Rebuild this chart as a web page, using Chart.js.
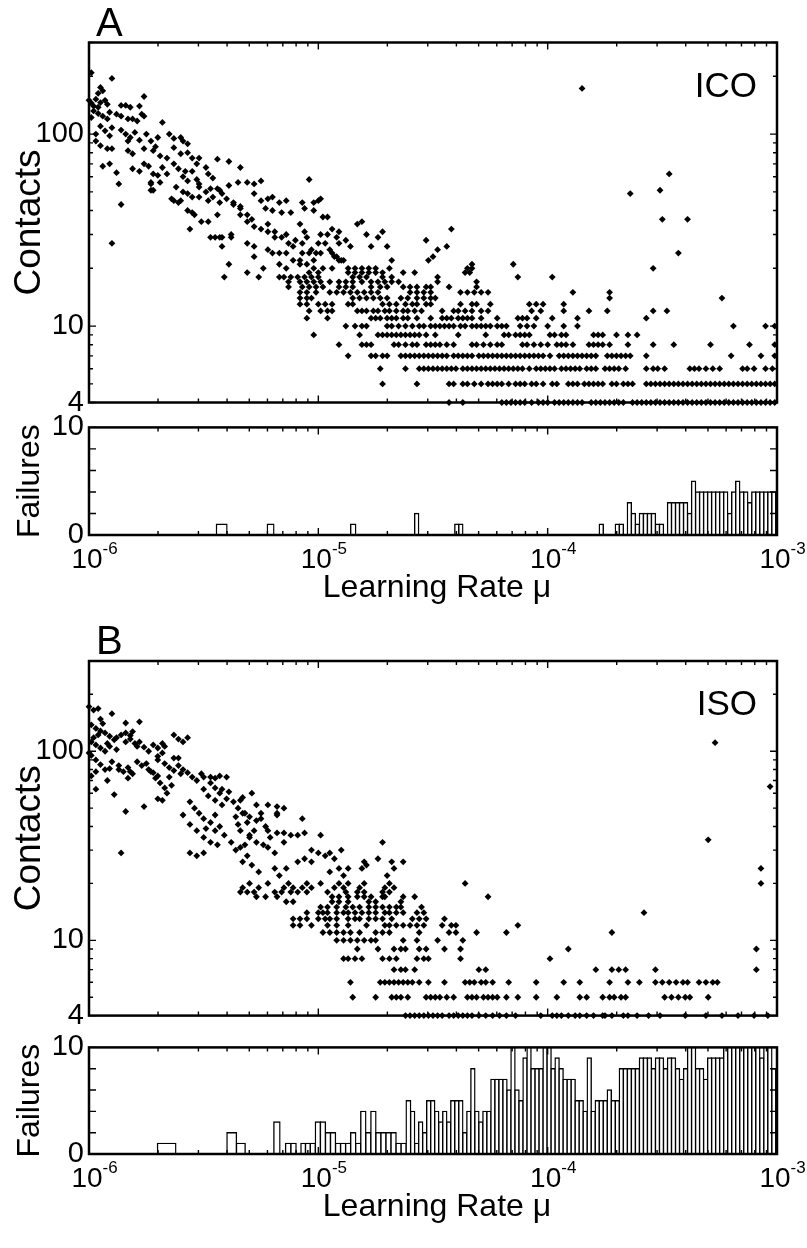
<!DOCTYPE html>
<html>
<head>
<meta charset="utf-8">
<title>Contacts and failures vs learning rate</title>
<script src="https://cdn.jsdelivr.net/npm/chart.js@4.4.0/dist/chart.umd.min.js"></script>
<style>
  body { margin: 0; background: #fff; }
  #wrap { position: relative; width: 807px; height: 1248px; overflow: hidden; }
  canvas { position: absolute; left: 0; }
</style>
</head>
<body>
<div id="wrap">
  <canvas id="contactsA" style="top:0px"></canvas>
  <canvas id="failuresA" style="top:405px"></canvas>
  <canvas id="contactsB" style="top:618px"></canvas>
  <canvas id="failuresB" style="top:1025px"></canvas>
</div>
<script>
// learning rates (log10 of mu) at which failures were counted
var learningRateExp = [
  -6.000,-5.854,-5.745,-5.658,-5.585,-5.523,-5.469,-5.420,-5.377,-5.337,
  -5.301,-5.268,-5.237,-5.208,-5.180,-5.155,-5.131,-5.108,-5.086,-5.066,
  -5.046,-5.024,-5.002,-4.980,-4.958,-4.936,-4.914,-4.892,-4.870,-4.848,
  -4.826,-4.804,-4.782,-4.760,-4.738,-4.716,-4.694,-4.672,-4.650,-4.628,
  -4.606,-4.589,-4.571,-4.554,-4.536,-4.519,-4.501,-4.484,-4.466,-4.449,
  -4.431,-4.414,-4.396,-4.379,-4.361,-4.344,-4.326,-4.309,-4.291,-4.274,
  -4.256,-4.239,-4.221,-4.204,-4.186,-4.169,-4.151,-4.134,-4.116,-4.099,
  -4.081,-4.064,-4.046,-4.029,-4.011,-3.994,-3.976,-3.959,-3.941,-3.924,
  -3.906,-3.889,-3.871,-3.854,-3.836,-3.819,-3.801,-3.784,-3.766,-3.749,
  -3.731,-3.714,-3.696,-3.679,-3.661,-3.644,-3.626,-3.609,-3.591,-3.574,
  -3.556,-3.539,-3.521,-3.504,-3.486,-3.469,-3.451,-3.434,-3.416,-3.399,
  -3.381,-3.364,-3.346,-3.329,-3.311,-3.294,-3.276,-3.259,-3.241,-3.224,
  -3.206,-3.189,-3.171,-3.154,-3.136,-3.119,-3.101,-3.084,-3.066,-3.049,
  -3.031,-3.014
];

var failuresA = [
  0,0,0,0,0,0,0,1,0,0,
  0,0,0,1,0,0,0,0,0,0,
  0,0,0,0,0,0,0,0,0,1,
  0,0,0,0,0,0,0,0,0,0,
  0,0,2,0,0,0,0,0,0,0,
  0,0,1,1,0,0,0,0,0,0,
  0,0,0,0,0,0,0,0,0,0,
  0,0,0,0,0,0,0,0,0,0,
  0,0,0,0,0,0,0,0,1,0,
  0,0,1,1,0,3,2,1,2,2,
  2,2,1,1,0,3,3,3,3,3,
  2,5,4,4,4,4,4,4,4,4,
  2,4,5,4,4,3,4,4,4,4,
  4,4
];

var failuresB = [
  0,0,0,1,0,0,0,0,2,1,
  0,0,0,0,3,0,1,1,0,1,
  1,1,3,3,2,2,1,1,1,2,
  1,4,2,4,2,2,2,2,1,1,
  5,4,1,3,2,5,5,4,3,4,
  3,5,5,5,2,4,8,4,3,4,
  4,7,7,7,7,6,10,6,5,9,
  10,8,8,8,10,10,8,9,8,7,
  7,7,5,5,4,9,4,5,5,5,
  6,5,5,8,8,8,8,8,9,9,
  9,8,9,9,8,9,9,8,7,8,
  10,10,8,8,7,9,9,9,9,10,
  10,10,10,10,10,10,10,10,9,10,
  10,8
];

// contacts: [count, [log10 mu of every run with that count]]
var contactRowsA = [
  [4, [-4.43,-4.37,-4.20,-4.18,-4.16,-4.14,-4.12,-4.10,-4.07,-4.04,-4.02,-4.00,-3.97,-3.95,-3.93,-3.91,-3.89,-3.87,-3.85,-3.81,-3.79,-3.77,-3.75,-3.73,-3.71,-3.69,-3.67,-3.63,-3.61,-3.59,-3.57,-3.55,-3.53,-3.51,-3.49,-3.47,-3.45,-3.43,-3.41,-3.39,-3.37,-3.35,-3.33,-3.31,-3.29,-3.27,-3.25,-3.23,-3.21,-3.19,-3.17,-3.15,-3.13,-3.11,-3.09,-3.07,-3.05,-3.03,-3.01]],
  [5, [-4.72,-4.57,-4.43,-4.41,-4.37,-4.35,-4.32,-4.29,-4.26,-4.24,-4.22,-4.20,-4.17,-4.14,-4.12,-4.10,-4.07,-4.05,-4.02,-3.98,-3.96,-3.91,-3.89,-3.87,-3.84,-3.82,-3.80,-3.78,-3.76,-3.72,-3.70,-3.67,-3.65,-3.63,-3.57,-3.55,-3.53,-3.51,-3.49,-3.47,-3.45,-3.43,-3.41,-3.39,-3.37,-3.35,-3.33,-3.31,-3.29,-3.27,-3.25,-3.23,-3.21,-3.19,-3.17,-3.15,-3.13,-3.11,-3.09,-3.07,-3.05,-3.03,-3.01]],
  [6, [-4.73,-4.62,-4.56,-4.54,-4.52,-4.50,-4.48,-4.46,-4.44,-4.42,-4.40,-4.37,-4.35,-4.33,-4.31,-4.29,-4.27,-4.25,-4.23,-4.21,-4.19,-4.17,-4.15,-4.13,-4.11,-4.08,-4.05,-4.03,-4.01,-3.99,-3.97,-3.94,-3.92,-3.90,-3.88,-3.86,-3.83,-3.81,-3.79,-3.75,-3.73,-3.71,-3.69,-3.66,-3.57,-3.54,-3.52,-3.49,-3.38,-3.36,-3.34,-3.31,-3.28,-3.25,-3.15,-3.13,-3.10,-3.05,-3.02]],
  [7, [-4.87,-4.77,-4.75,-4.72,-4.70,-4.64,-4.62,-4.60,-4.58,-4.56,-4.54,-4.52,-4.50,-4.48,-4.46,-4.44,-4.41,-4.39,-4.37,-4.35,-4.33,-4.30,-4.28,-4.26,-4.24,-4.22,-4.20,-4.18,-4.16,-4.14,-4.12,-4.10,-4.08,-4.06,-4.04,-4.02,-3.99,-3.95,-3.93,-3.91,-3.89,-3.87,-3.85,-3.83,-3.81,-3.79,-3.74,-3.72,-3.70,-3.68,-3.66,-3.64,-3.57,-3.20,-3.07,-3.01]],
  [8, [-4.91,-4.81,-4.79,-4.77,-4.67,-4.65,-4.62,-4.59,-4.57,-4.53,-4.51,-4.49,-4.47,-4.44,-4.41,-4.33,-4.31,-4.28,-4.25,-4.22,-4.20,-4.11,-4.09,-4.06,-4.03,-4.00,-3.96,-3.94,-3.92,-3.89,-3.82,-3.80,-3.78,-3.76,-3.73,-3.65,-3.54,-3.45,-3.29,-3.12,-3.01]],
  [9, [-5.02,-4.82,-4.74,-4.72,-4.70,-4.68,-4.66,-4.64,-4.62,-4.60,-4.58,-4.56,-4.53,-4.49,-4.39,-4.27,-4.19,-4.17,-4.14,-4.12,-4.10,-4.08,-3.99,-3.97,-3.94,-3.92,-3.80,-3.78,-3.76,-3.70,-3.65,-3.61]],
  [10, [-4.88,-4.84,-4.81,-4.79,-4.70,-4.68,-4.65,-4.62,-4.59,-4.56,-4.54,-4.51,-4.49,-4.47,-4.45,-4.43,-4.41,-4.38,-4.36,-4.33,-4.31,-4.29,-4.27,-4.25,-4.22,-4.20,-4.18,-4.12,-4.09,-4.06,-4.00,-3.93,-3.87,-3.19,-3.05,-3.01]],
  [11, [-5.05,-4.96,-4.77,-4.75,-4.73,-4.70,-4.68,-4.66,-4.63,-4.61,-4.57,-4.51,-4.46,-4.44,-4.42,-4.39,-4.37,-4.35,-4.33,-4.29,-4.22,-4.13,-4.11,-4.09,-4.05,-3.98,-3.87,-3.57]],
  [12, [-5.04,-4.99,-4.96,-4.94,-4.83,-4.81,-4.79,-4.76,-4.74,-4.71,-4.69,-4.66,-4.63,-4.61,-4.58,-4.55,-4.46,-4.41,-4.39,-4.36,-4.33,-4.29,-4.26,-4.07,-4.03,-3.93,-3.82,-3.74,-3.54,-3.48]],
  [13, [-5.08,-5.05,-5.00,-4.97,-4.94,-4.87,-4.85,-4.72,-4.69,-4.66,-4.62,-4.59,-4.57,-4.53,-4.51,-4.38,-4.33,-4.31,-4.25,-4.08,-4.05,-4.02,-3.93]],
  [14, [-5.08,-5.05,-5.03,-4.85,-4.82,-4.79,-4.76,-4.73,-4.70,-4.64,-4.61,-4.57,-4.54,-4.51,-4.49,-3.73,-3.24]],
  [15, [-5.08,-5.05,-5.01,-4.95,-4.92,-4.89,-4.86,-4.83,-4.80,-4.77,-4.74,-4.60,-4.57,-4.54,-4.51,-4.38,-4.35,-4.32,-4.29,-4.26,-3.89,-3.73]],
  [16, [-5.13,-5.07,-5.04,-5.01,-4.98,-4.91,-4.88,-4.85,-4.77,-4.73,-4.70,-4.63,-4.60,-4.57,-4.53,-4.51,-4.43,-4.31]],
  [17, [-5.13,-5.08,-5.05,-5.02,-4.99,-4.95,-4.91,-4.88,-4.85,-4.81,-4.77,-4.74,-4.71,-4.68,-4.65,-4.48,-4.31]],
  [18, [-5.41,-5.26,-5.17,-5.15,-5.12,-5.09,-5.06,-5.03,-5.00,-4.85,-4.82,-4.79,-4.72,-4.68,-4.48,-4.13,-3.98]],
  [19, [-5.31,-5.04,-5.00,-4.87,-4.84,-4.81,-4.78,-4.75,-4.72,-4.63,-4.58,-4.36,-4.34]],
  [20, [-5.24,-5.14,-5.02,-4.98,-4.94,-4.87,-4.84,-4.81,-4.78,-4.75,-4.69,-4.35,-4.33,-3.54]]
];

// contacts above 20: [log10 mu, count]
var contactCloudA = [
  [-5.08,21],[-5.05,21],[-5.02,22],[-4.91,22],[-4.89,22],[-5.07,24],[-5.04,24],[-5.01,24],[-4.99,24],[-4.94,24],
  [-4.92,23],[-4.90,22],[-4.52,22],[-4.50,23],[-4.15,21],[-4.33,21],[-4.53,28],[-4.48,25],[-4.44,26],[-4.42,32],
  [-4.70,26],[-4.68,22],[-4.77,26],[-4.91,27],[-4.88,28],[-4.86,26],[-4.83,34],[-4.81,35],[-4.79,30],[-4.74,29],
  [-4.72,31],[-4.94,32],[-4.91,31],[-4.96,30],[-4.92,29],[-5.00,45],[-4.98,37],[-5.02,44],[-5.02,40],[-5.08,34],
  [-5.06,31],[-5.05,29],[-5.07,27],[-5.39,21],[-5.42,26],[-5.28,23],[-5.17,21],[-5.11,22],[-5.08,22],[-5.22,25],
  [-5.20,24],[-5.17,24],[-5.14,24],[-5.31,27],[-5.28,26],[-5.38,30],[-5.38,29],[-5.47,29],[-5.45,29],[-5.43,29],
  [-5.42,29],[-5.51,35],[-5.48,35],[-5.56,32],[-5.57,40],[-5.54,38],[-5.57,49],[-5.55,47],[-5.64,46],[-5.61,44],
  [-5.73,51],[-5.87,55],[-5.86,43],[-5.90,27],
  [-5.99,209],[-5.90,195],[-5.95,175],[-5.96,163],[-5.94,168],[-6.00,150],[-5.99,145],[-5.98,140],[-5.97,152],[-5.96,138],
  [-5.95,146],[-5.93,150],[-5.92,143],[-5.76,157],[-5.86,141],[-5.84,141],[-5.82,138],[-5.78,140],[-5.77,127],[-5.98,132],
  [-5.96,128],[-5.94,124],[-5.92,120],[-5.91,130],[-5.99,122],[-5.88,127],[-5.86,124],[-5.83,120],[-5.81,120],[-5.79,117],
  [-5.76,124],[-5.68,115],[-5.95,110],[-5.93,104],[-5.91,98],[-5.90,108],[-5.97,100],[-5.86,105],[-5.84,100],[-5.82,96],
  [-5.80,102],[-5.78,93],[-5.83,92],[-5.75,100],[-5.73,92],[-5.71,86],[-5.70,96],[-5.65,100],[-5.63,95],[-5.60,96],
  [-5.59,92],[-5.57,89],[-5.97,92],[-5.95,87],[-5.92,84],[-5.90,84],[-5.83,82],[-5.81,79],[-5.76,84],[-5.72,82],
  [-5.69,77],[-5.66,75],[-5.63,85],[-5.60,79],[-5.57,80],[-5.55,75],[-5.52,75],[-5.53,70],[-5.49,67],[-5.94,68],
  [-5.91,70],[-5.88,63],[-5.81,66],[-5.78,64],[-5.76,70],[-5.74,68],[-5.72,62],[-5.70,61],[-5.73,56],[-5.72,51],
  [-5.68,67],[-5.66,62],[-5.63,70],[-5.61,66],[-5.59,60],[-5.58,64],[-5.57,57],[-5.55,64],[-5.53,58],[-5.52,53],
  [-5.48,62],[-5.46,59],[-5.44,74],[-5.39,72],[-5.34,67],[-5.63,45],[-5.60,45],[-5.55,39],[-5.52,47],[-5.48,45],
  [-5.47,52],[-5.44,52],[-5.42,49],[-5.39,54],[-5.35,56],[-5.31,56],[-5.28,55],[-5.25,57],[-5.40,46],[-5.37,43],
  [-5.34,42],[-5.44,38],[-5.28,49],[-5.25,45],[-5.22,46],[-5.20,47],[-5.17,44],[-5.14,45],[-5.23,41],[-5.20,40],
  [-5.16,39],[-5.12,39],[-5.07,44],[-5.06,41],[-5.04,58],[-4.99,46],[-4.96,37],
  [-5.73,55],[-5.69,56],[-5.62,53],[-5.59,50],[-5.52,55],[-5.49,50],[-5.46,47],[-5.43,44],[-5.43,51],[-5.37,44],
  [-5.34,41],[-5.31,38],[-5.29,36],[-5.34,38],[-5.31,35],[-5.28,33],[-5.25,32],[-5.22,31],[-5.22,34],[-5.19,31],
  [-5.16,29],[-5.13,27],[-5.11,26],[-5.19,29],[-5.14,30],[-5.10,28],[-5.03,25],[-5.00,27],[-4.99,30],[-4.97,27],
  [-4.95,25],[-4.93,23],
  [-3.85,173],[-3.47,62],[-3.64,49],[-3.51,51],[-3.50,36],[-3.39,36],[-3.43,24]
];

var contactRowsB = [
  [4, [-4.62,-4.60,-4.58,-4.56,-4.54,-4.52,-4.50,-4.48,-4.46,-4.43,-4.41,-4.39,-4.37,-4.35,-4.33,-4.30,-4.27,-4.24,-4.21,-4.18,-4.14,-4.03,-3.98,-3.96,-3.94,-3.91,-3.88,-3.86,-3.83,-3.80,-3.76,-3.75,-3.72,-3.67,-3.65,-3.61,-3.56,-3.51,-3.40,-3.31,-3.24,-3.17,-3.10,-3.04]],
  [5, [-4.85,-4.75,-4.68,-4.66,-4.64,-4.61,-4.53,-4.51,-4.49,-4.47,-4.44,-4.41,-4.35,-4.33,-4.31,-4.28,-4.26,-4.24,-4.22,-4.18,-4.13,-4.05,-3.96,-3.86,-3.83,-3.76,-3.73,-3.71,-3.68,-3.66,-3.49,-3.46,-3.43,-3.40,-3.38,-3.30]],
  [6, [-4.86,-4.73,-4.71,-4.69,-4.67,-4.65,-4.63,-4.61,-4.59,-4.56,-4.52,-4.45,-4.36,-4.34,-4.32,-4.29,-4.27,-4.24,-4.17,-4.05,-3.93,-3.86,-3.73,-3.65,-3.60,-3.53,-3.50,-3.47,-3.44,-3.41,-3.39,-3.34,-3.31,-3.28,-3.26]],
  [7, [-4.67,-4.64,-4.62,-4.58,-4.30,-4.27,-3.79,-3.72,-3.69,-3.66,-3.53,-3.09]],
  [8, [-4.89,-4.87,-4.84,-4.81,-4.72,-4.69,-4.66,-4.57,-4.54,-4.52,-4.38,-3.99]],
  [9, [-4.83,-4.74,-4.67,-4.64,-4.62,-4.56,-4.53,-4.45,-4.38,-3.91,-3.09]],
  [10, [-4.92,-4.89,-4.86,-4.83,-4.80,-4.77,-4.75,-4.63,-4.57,-4.48,-4.37]],
  [11, [-4.98,-4.95,-4.92,-4.89,-4.86,-4.82,-4.75,-4.72,-4.69,-4.56,-4.43,-4.40,-4.31,-4.18,-3.72]],
  [12, [-5.11,-5.08,-5.03,-4.96,-4.92,-4.87,-4.79,-4.71,-4.69,-4.66,-4.63,-4.60,-4.57,-4.54,-4.46,-4.42,-4.40,-4.13]],
  [13, [-5.11,-5.08,-5.05,-5.00,-4.97,-4.95,-4.92,-4.87,-4.84,-4.82,-4.78,-4.75,-4.72,-4.68,-4.59,-4.56,-4.53,-4.45]],
  [14, [-5.05,-5.00,-4.98,-4.96,-4.92,-4.89,-4.87,-4.84,-4.81,-4.78,-4.75,-4.71,-4.69,-4.66,-4.63,-4.57,-4.54,-3.58]],
  [15, [-4.99,-4.96,-4.92,-4.88,-4.85,-4.82,-4.78,-4.75,-4.72,-4.69,-4.66,-4.64,-4.55]],
  [16, [-5.14,-5.11,-4.94,-4.91,-4.87,-4.78,-4.75,-4.64]],
  [17, [-5.27,-5.23,-5.18,-4.94,-4.91,-4.87,-4.83,-4.80,-4.77,-4.72,-4.71,-4.63,-4.58,-4.26]],
  [18, [-5.34,-5.31,-5.28,-5.19,-5.16,-5.12,-5.09,-5.05,-4.96,-4.88,-4.83,-4.80,-4.72,-4.69]],
  [19, [-5.33,-5.26,-5.15,-5.11,-5.07,-5.03,-4.93,-4.89,-4.82,-4.71,-4.67]],
  [20, [-5.30,-5.22,-5.13,-5.05,-4.99,-4.91,-4.87,-4.80,-4.69,-4.36,-3.07]]
];

var contactCloudB = [
  [-4.72,33],[-4.63,26],[-4.67,24],[-4.70,22],[-3.30,34],[-3.07,24],[-3.03,65],[-3.27,111],
  [-5.29,60],[-5.33,57],[-5.34,55],[-5.27,52],[-5.25,47],[-5.22,52],[-5.18,51],[-5.15,50],[-5.18,47],[-5.33,47],
  [-5.31,42],[-5.28,38],[-5.25,44],[-5.23,40],[-5.22,38],[-5.34,38],[-5.30,35],[-5.27,33],[-5.32,32],[-5.15,37],
  [-5.12,36],[-5.09,36],[-5.06,37],[-5.07,44],[-4.99,36],[-5.34,31],[-5.31,28],[-5.29,25],[-5.26,23],[-5.33,26],
  [-5.22,31],[-5.19,29],[-5.19,24],[-5.17,22],[-5.14,24],[-5.09,26],[-5.06,27],[-5.03,26],[-5.03,30],[-5.00,29],
  [-4.97,28],[-4.95,29],[-4.93,27],[-4.91,24],[-4.89,22],[-4.95,23],[-4.87,24],[-4.81,24],[-4.80,26],[-4.79,25],
  [-4.74,27],[-4.68,26],[-4.90,30],
  [-6.00,172],[-5.98,165],[-5.96,168],[-5.90,158],[-5.84,141],[-5.78,143],[-5.95,148],[-5.94,140],[-5.99,138],[-5.97,132],
  [-5.95,128],[-5.93,125],[-5.91,120],[-5.89,115],[-5.99,112],[-5.97,108],[-5.95,104],[-5.93,100],[-5.91,106],[-5.88,102],
  [-6.00,98],[-5.98,118],[-5.96,122],[-5.92,110],[-5.88,118],[-5.86,122],[-5.84,112],[-5.82,116],[-5.80,110],[-5.79,106],
  [-5.84,125],[-5.82,121],[-5.81,127],[-5.78,112],[-5.76,105],[-5.74,100],[-5.72,108],[-5.70,104],[-5.68,98],[-5.68,110],
  [-5.67,106],[-5.70,94],[-5.99,95],[-5.97,90],[-5.95,85],[-5.93,80],[-5.90,88],[-5.87,84],[-5.85,78],[-5.83,82],
  [-5.81,76],[-5.97,78],[-5.99,74],[-5.91,81],[-5.97,63],[-5.92,70],[-5.89,59],[-5.87,80],[-5.83,72],[-5.82,78],
  [-5.84,48],[-5.86,29],[-5.76,51],[-5.70,56],[-5.68,55],[-5.79,88],[-5.77,84],[-5.74,80],[-5.72,77],[-5.70,74],
  [-5.75,86],[-5.73,78],[-5.71,72],[-5.69,68],[-5.67,64],[-5.66,60],[-5.64,66],[-5.65,73],[-5.70,90],[-5.67,86],
  [-5.65,82],[-5.63,79],[-5.61,84],[-5.60,76],[-5.63,92],[-5.61,92],[-5.59,80],[-5.57,77],[-5.55,73],[-5.53,70],
  [-5.51,76],[-5.50,73],[-5.47,73],[-5.45,72],[-5.43,74],[-5.40,73],[-5.47,68],[-5.45,64],[-5.43,60],[-5.50,63],
  [-5.48,58],[-5.45,55],[-5.42,52],[-5.40,56],[-5.42,63],[-5.39,61],[-5.37,54],[-5.35,50],[-5.32,47],[-5.30,45],
  [-5.27,43],[-5.36,45],[-5.56,54],[-5.54,50],[-5.52,47],[-5.50,44],[-5.47,42],[-5.45,46],[-5.43,40],[-5.59,46],
  [-5.56,41],[-5.53,38],[-5.50,35],[-5.47,33],[-5.44,32],[-5.49,39],[-5.45,38],[-5.41,36],[-5.38,33],[-5.36,30],
  [-5.56,29],[-5.53,28],[-5.50,29],[-5.35,41],[-5.30,36],[-5.24,32],[-5.21,35],[-5.18,37],[-5.15,33],[-5.18,46],
  [-5.63,122],[-5.61,116],[-5.59,112],[-5.57,118]
];

var contactTicks = [4, 5, 6, 7, 8, 9, 10, 20, 30, 40, 50, 60, 70, 80, 90, 100, 200, 300];
var contactLabels = [4, 10, 100];
var failureTicks = [0, 2, 4, 6, 8, 10];
var failureLabels = [0, 10];
var decades = [-6, -5, -4, -3];

var FONT = '"Liberation Sans", Arial, Helvetica, sans-serif';

function toPoints(rows, cloud) {
  var pts = [];
  rows.forEach(function (r) {
    r[1].forEach(function (x) { pts.push({ x: x, y: r[0] }); });
  });
  cloud.forEach(function (p) { pts.push({ x: p[0], y: p[1] }); });
  return pts;
}

// box, inward ticks, decade labels, panel letter and tag
var decor = {
  id: 'decor',
  afterDatasetsDraw: function (chart, args, o) {
    var ctx = chart.ctx, a = chart.chartArea, x = chart.scales.x, y = chart.scales.y;
    ctx.save();
    ctx.strokeStyle = '#000';
    ctx.lineWidth = 1.4;
    ctx.beginPath();
    o.yTicks.forEach(function (v) {
      var py = y.getPixelForValue(v);
      var len = o.yMajor.indexOf(v) >= 0 ? 7 : 4;
      ctx.moveTo(a.left, py); ctx.lineTo(a.left + len, py);
      ctx.moveTo(a.right, py); ctx.lineTo(a.right - len, py);
    });
    decades.forEach(function (d) {
      var px = x.getPixelForValue(d);
      ctx.moveTo(px, a.top); ctx.lineTo(px, a.top + 7);
      ctx.moveTo(px, a.bottom); ctx.lineTo(px, a.bottom - 7);
      if (d < -3) {
        for (var k = 2; k < 10; k++) {
          var pm = x.getPixelForValue(d + Math.log10(k));
          ctx.moveTo(pm, a.top); ctx.lineTo(pm, a.top + 4);
          ctx.moveTo(pm, a.bottom); ctx.lineTo(pm, a.bottom - 4);
        }
      }
    });
    ctx.stroke();
    ctx.lineWidth = 2.5;
    ctx.strokeRect(a.left, a.top, a.right - a.left, a.bottom - a.top);

    ctx.fillStyle = '#000';
    ctx.textBaseline = 'alphabetic';
    if (o.xLabels) {
      decades.forEach(function (d) {
        var px = x.getPixelForValue(d);
        // base centred on the tick, exponent hanging to the right
        ctx.font = '28px ' + FONT;
        ctx.textAlign = 'center';
        ctx.fillText('10', px - 2, a.bottom + 33);
        var w1 = ctx.measureText('10').width;
        ctx.font = '17px ' + FONT;
        ctx.textAlign = 'left';
        ctx.fillText(String(d), px - 2 + w1 / 2, a.bottom + 19);
      });
      ctx.textAlign = 'center';
      ctx.font = '32px ' + FONT;
      ctx.fillText('Learning Rate \u03bc', (a.left + a.right) / 2 + 4, a.bottom + 62);
    }
    if (o.letter) {
      ctx.textAlign = 'left';
      ctx.font = '40px ' + FONT;
      ctx.fillText(o.letter, a.left + 7, a.top - 7);
    }
    if (o.tag) {
      ctx.textAlign = 'right';
      ctx.font = '35px ' + FONT;
      ctx.fillText(o.tag, a.right - 20, a.top + 54);
    }
    ctx.restore();
  }
};

function yAxis(opts) {
  return Object.assign({
    position: 'left',
    afterFit: function (s) { s.width = 89; },
    grid: { display: false, drawTicks: false },
    border: { display: false },
    title: { display: true, text: opts.title, color: '#000', font: { family: FONT, size: opts.titleSize },
      padding: { top: opts.titlePad, bottom: 0 } },
    ticks: {
      color: '#000', padding: 5, autoSkip: false,
      font: { family: FONT, size: 29 },
      callback: function (v) { return opts.labels.indexOf(v) >= 0 ? String(v) : ''; }
    },
    afterBuildTicks: function (s) {
      s.ticks = opts.ticks.map(function (v) { return { value: v }; });
    }
  }, opts.extra);
}

function xAxis() {
  return { type: 'linear', min: -6, max: -3, offset: false, display: false };
}

function contactsChart(id, height, padTop, rows, cloud, letter, tag) {
  var el = document.getElementById(id);
  el.width = 807; el.height = height;
  el.style.width = '807px'; el.style.height = height + 'px';
  return new Chart(el, {
    type: 'scatter',
    data: {
      datasets: [{
        data: toPoints(rows, cloud),
        pointStyle: 'rectRot',
        pointRadius: 3.4,
        pointBorderWidth: 0,
        backgroundColor: '#000',
        borderColor: '#000',
        clip: false
      }]
    },
    options: {
      responsive: false,
      animation: false,
      events: [],
      layout: { padding: { top: padTop, bottom: height - padTop - 360, left: 0, right: 30 } },
      plugins: { legend: { display: false }, tooltip: { enabled: false },
        decor: { yTicks: contactTicks, yMajor: contactLabels, letter: letter, tag: tag, xLabels: false } },
      scales: {
        x: xAxis(),
        y: yAxis({ title: 'Contacts', titleSize: 37, titlePad: 8, labels: contactLabels, ticks: contactTicks,
          extra: { type: 'logarithmic', min: 4, max: 300 } })
      }
    },
    plugins: [decor]
  });
}

function failuresChart(id, height, padTop, counts) {
  var el = document.getElementById(id);
  el.width = 807; el.height = height;
  el.style.width = '807px'; el.style.height = height + 'px';
  return new Chart(el, {
    type: 'bar',
    data: {
      datasets: [{
        data: learningRateExp.map(function (x, i) { return { x: x, y: counts[i] }; }),
        backgroundColor: '#fff',
        borderColor: '#000',
        borderWidth: 1.4,
        inflateAmount: 0.7,
        borderSkipped: 'start',
        barThickness: 'flex',
        categoryPercentage: 1,
        barPercentage: 1
      }]
    },
    options: {
      responsive: false,
      animation: false,
      events: [],
      layout: { padding: { top: padTop, bottom: height - padTop - 109, left: 0, right: 30 } },
      plugins: { legend: { display: false }, tooltip: { enabled: false },
        decor: { yTicks: failureTicks, yMajor: failureTicks, xLabels: true } },
      scales: {
        x: xAxis(),
        y: yAxis({ title: 'Failures', titleSize: 32, titlePad: 11, labels: failureLabels, ticks: failureTicks,
          extra: { type: 'linear', min: 0, max: 10 } })
      }
    },
    plugins: [decor]
  });
}

contactsChart('contactsA', 425, 42.5, contactRowsA, contactCloudA, 'A', 'ICO');
failuresChart('failuresA', 213, 21, failuresA);
contactsChart('contactsB', 420, 43, contactRowsB, contactCloudB, 'B', 'ISO');
failuresChart('failuresB', 223, 20, failuresB);
</script>
</body>
</html>
